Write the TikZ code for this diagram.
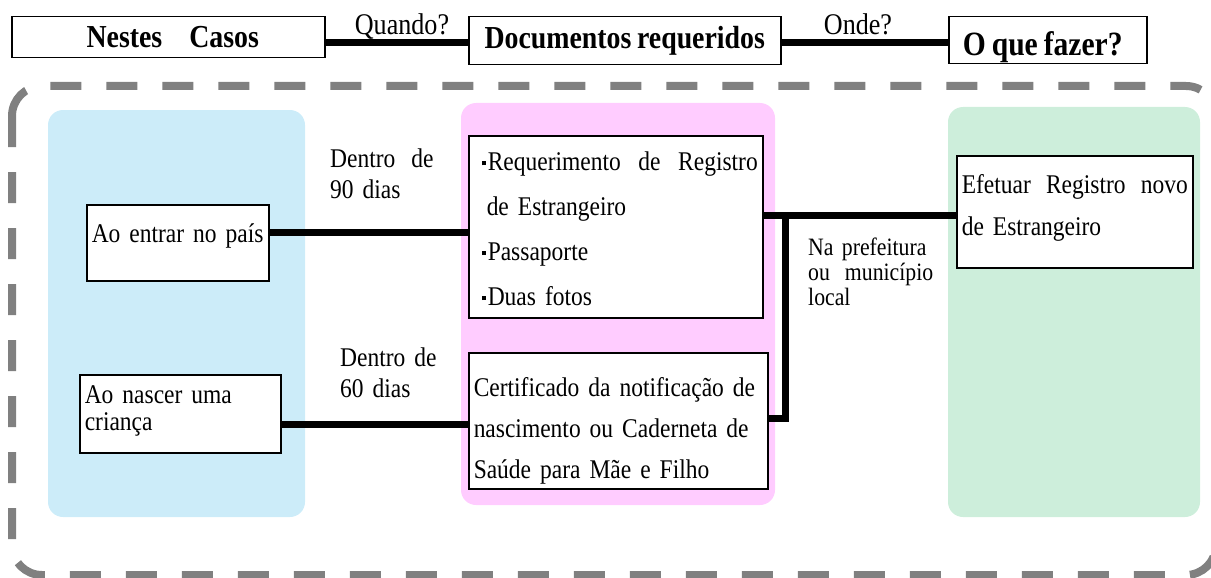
\documentclass[tikz,border=0pt]{standalone}
\usepackage{fontspec}
\setmainfont{Liberation Serif}[FakeStretch=0.87,WordSpace=0.8]
\definecolor{paleblue}{RGB}{204,236,249}
\definecolor{palepink}{RGB}{255,204,255}
\definecolor{palegreen}{RGB}{205,238,219}
\definecolor{framegray}{RGB}{128,128,128}
\newcommand{\dotm}{\hspace*{8pt}\raisebox{5.5pt}{\rule{4pt}{4pt}}\hspace{2pt}}

\begin{document}
\begin{tikzpicture}[x=1pt,y=-1pt,
    head/.style={draw,line width=1.5pt,fill=white,anchor=north west,inner sep=0pt,font=\fontsize{32}{34}\selectfont\bfseries},
    item/.style={draw,line width=1.5pt,fill=white,anchor=north west,inner xsep=5pt,inner ysep=0pt,align=left,font=\fontsize{27}{45}\selectfont},
    note/.style={anchor=base west,inner sep=0pt,text width=110pt,align=left,font=\fontsize{27}{31}\selectfont},
    ask/.style={anchor=base,inner sep=0pt,font=\fontsize{30}{30}\selectfont},
    conn/.style={line width=7pt},
    panel/.style={rounded corners=15pt}]
        \useasboundingbox (0,0) rectangle (1211,578);

        % columns
        \fill[paleblue,panel] (48,110) rectangle (305,517);
        \fill[palepink,panel] (461,103) rectangle (775,505);
        \fill[palegreen,panel] (948,107) rectangle (1200,517);
        \draw[framegray,line width=8pt,dash pattern=on 31pt off 25pt,rounded corners=30pt] (12,86) rectangle (1216,575);

        % header row
        \node[head,minimum width=313pt,text height=31pt,text depth=10pt] (cases) at (11,16) {\hspace*{9pt}Nestes\hspace{27pt}Casos};
        \node[head,minimum width=312pt,text height=32pt,text depth=16pt] (docs) at (468,16) {Documentos requeridos};
        \node[head,minimum width=198pt,text height=39pt,text depth=8pt,font=\fontsize{34}{36}\selectfont\bfseries] (todo) at (948,16) {O que fazer?\hspace*{10pt}};
        \node[ask] (when) at (402,35) {Quando?};
        \node[ask] (where) at (858,35) {Onde?};

        \path[draw,conn] (cases.east |- 0,43) -- (docs.west |- 0,43);
        \path[draw,conn] (docs.east |- 0,43) -- (todo.west |- 0,43);

        % boxes
        \node[item,text width=172pt,text height=38pt,text depth=38pt] (enter) at (86,204) {Ao entrar no país};
        \node[item,text width=191pt,text height=29pt,text depth=49pt,font=\fontsize{27}{27}\selectfont] (birth) at (79,374) {Ao nascer uma\\criança};
        \node[item,text width=284pt,text height=35pt,text depth=147pt] (req) at (468,135)
            {\dotm Requerimento\hfill de\hfill Registro\\\hspace*{13pt}de Estrangeiro\\\dotm Passaporte\\\dotm Duas fotos};
        \node[item,text width=289pt,text height=44pt,text depth=92pt,font=\fontsize{27}{41}\selectfont] (cert) at (468,352)
            {Certificado da notificação de\\nascimento ou Caderneta de\\Saúde para Mãe e Filho};
        \node[item,text width=226pt,text height=38pt,text depth=74pt,font=\fontsize{27}{42}\selectfont] (eff) at (956,155)
            {Efetuar\hfill Registro\hfill novo\\de Estrangeiro};

        % labels
        \node[note] (d90) at (330,167) {Dentro\hspace{7pt} de\\90 dias};
        \node[note] (d60) at (340,366) {Dentro de\\60 dias};
        \node[note,text width=125pt,font=\fontsize{25}{25}\selectfont] (place) at (808,255) {Na prefeitura\\ou\hfill município\\local};

        \coordinate (jn) at (785,215);
        \path[draw,conn] (enter.east |- 0,232) -- (req.west |- 0,232);
        \path[draw,conn] (birth.east |- 0,424) -- (cert.west |- 0,424);
        \path[draw,conn] (req.east |- jn) -- (eff.west |- jn);
        \path[draw,conn] (cert.east |- 0,418) -| (jn);
    \end{tikzpicture}
\end{document}
